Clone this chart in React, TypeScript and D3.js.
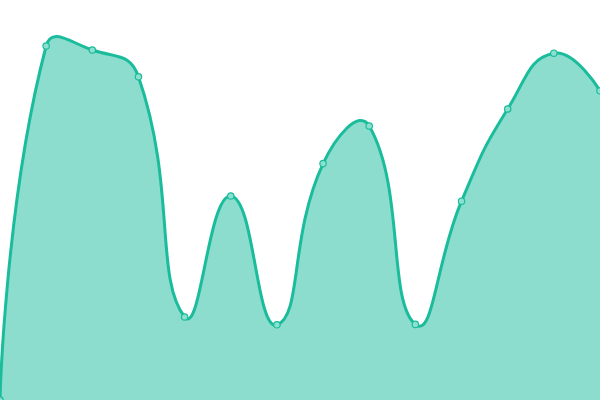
import React from 'react';
import * as d3 from 'd3';

const categories = ['1', '2', '3', '4', '5', '6', '7', '8', '9', '10', '11', '12', '13', '14'];
const values = [0, 88.5, 87.5, 80.8, 20.75, 51, 18.8, 59.1, 68.5, 18.9, 49.7, 72.75, 86.7, 77.3];

const WIDTH = 600;
const HEIGHT = 400;
const COLOR = '#1abc9c';

// bezier smoothing: control points along (next - prev), split by segment lengths
class SmoothCurve {
  _context: any;
  _line: number = NaN;
  _x: number[] = [];
  _y: number[] = [];
  _smooth = 0.5;

  constructor(context: any) {
    this._context = context;
  }
  areaStart() { this._line = 0; }
  areaEnd() { this._line = NaN; }
  lineStart() { this._x = []; this._y = []; }
  point(x: number, y: number) { this._x.push(+x); this._y.push(+y); }
  lineEnd() {
    const xs = this._x;
    const ys = this._y;
    const n = xs.length;
    const ctx = this._context;
    if (n) {
      if (this._line) ctx.lineTo(xs[0], ys[0]);
      else ctx.moveTo(xs[0], ys[0]);

      const cin: [number, number][] = [];
      const cout: [number, number][] = [];
      for (let i = 0; i < n; i++) {
        if (i === 0 || i === n - 1) {
          cin.push([xs[i], ys[i]]);
          cout.push([xs[i], ys[i]]);
          continue;
        }
        const vx = (xs[i + 1] - xs[i - 1]) * this._smooth;
        const vy = (ys[i + 1] - ys[i - 1]) * this._smooth;
        let lp = Math.hypot(xs[i] - xs[i - 1], ys[i] - ys[i - 1]);
        let ln = Math.hypot(xs[i + 1] - xs[i], ys[i + 1] - ys[i]);
        const sum = lp + ln;
        if (sum) { lp /= sum; ln /= sum; }
        cin.push([xs[i] - vx * lp, ys[i] - vy * lp]);
        cout.push([xs[i] + vx * ln, ys[i] + vy * ln]);
      }
      for (let i = 1; i < n; i++) {
        ctx.bezierCurveTo(cout[i - 1][0], cout[i - 1][1], cin[i][0], cin[i][1], xs[i], ys[i]);
      }
    }
    if (this._line || (this._line !== 0 && n === 1)) ctx.closePath();
    this._line = 1 - this._line;
  }
}

const smoothCurve = (context: any) => new SmoothCurve(context);

const App: React.FC = () => {
  const x = d3.scalePoint<string>().domain(categories).range([0, WIDTH]);
  const y = d3.scaleLinear().domain([0, 100]).range([HEIGHT, 0]);

  const data = categories.map((c, i) => ({ c, v: values[i] }));

  const area = d3.area<{ c: string; v: number }>()
    .x(d => x(d.c) as number)
    .y0(HEIGHT)
    .y1(d => y(d.v))
    .curve(smoothCurve as any);

  const line = d3.line<{ c: string; v: number }>()
    .x(d => x(d.c) as number)
    .y(d => y(d.v))
    .curve(smoothCurve as any);

  return (
    <svg
      width={WIDTH}
      height={HEIGHT}
      style={{ position: 'absolute', left: 0, top: 0, overflow: 'hidden' }}
    >
      <path d={area(data) || ''} fill={COLOR} fillOpacity={0.5} />
      <path d={line(data) || ''} fill="none" stroke={COLOR} strokeWidth={3} />
      {data.map(d => (
        <circle
          key={d.c}
          cx={x(d.c)}
          cy={y(d.v)}
          r={3.2}
          fill="#8de0cf"
          stroke={COLOR}
          strokeWidth={1.2}
        />
      ))}
    </svg>
  );
};

export default App;
